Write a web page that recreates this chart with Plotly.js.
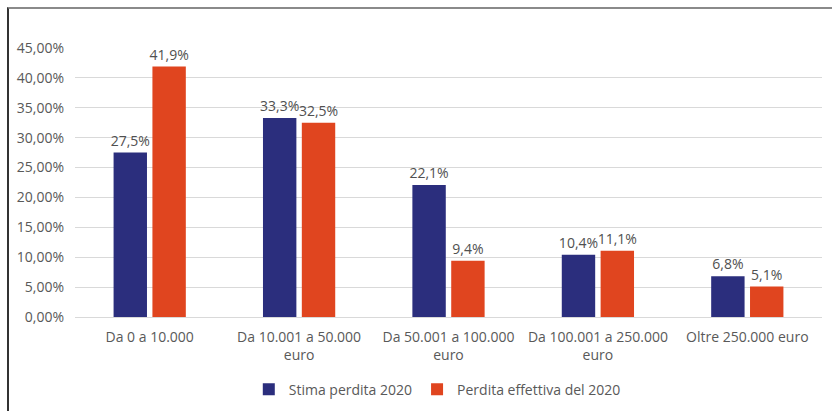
<!DOCTYPE html>
<html>
<head>
<meta charset="utf-8">
<script src="https://cdn.plot.ly/plotly-3.0.1.min.js"></script>
<style>
  html, body { margin: 0; padding: 0; background: #ffffff; }
  #wrap { position: relative; width: 832px; height: 411px; overflow: hidden; }
  #chart { position: absolute; left: 0; top: 0; width: 832px; height: 411px; }
  #frame { position: absolute; left: 7px; top: 7px; width: 900px; height: 500px;
           border-left: 2px solid #333333; border-top: 2px solid #8a8a8a; pointer-events: none; }
</style>
</head>
<body>
<div id="wrap">
  <div id="chart"></div>
  <div id="frame"></div>
</div>
<script>
const categories = [
  "Da 0 a 10.000",
  "Da 10.001 a 50.000<br>euro",
  "Da 50.001 a 100.000<br>euro",
  "Da 100.001 a 250.000<br>euro",
  "Oltre 250.000 euro"
];
const stimaPerdita2020 = [27.5, 33.3, 22.1, 10.4, 6.8];
const perditaEffettiva2020 = [41.9, 32.5, 9.4, 11.1, 5.1];
const seriesNames = ["Stima perdita 2020", "Perdita effettiva del 2020"];
const yTicks = [0, 5, 10, 15, 20, 25, 30, 35, 40, 45];

const FONT = "'Open Sans', 'Noto Sans', sans-serif";

const traces = [
  {
    type: "bar",
    name: seriesNames[0],
    x: categories,
    y: stimaPerdita2020.map(v => v / 100),
    marker: { color: "#2b2e7d" },
    texttemplate: "%{y:.1%}",
    textposition: "outside",
    constraintext: "none",
    textfont: { family: FONT, size: 14, color: "#505050" },
    cliponaxis: false,
    hoverinfo: "skip"
  },
  {
    type: "bar",
    name: seriesNames[1],
    x: categories,
    y: perditaEffettiva2020.map(v => v / 100),
    marker: { color: "#e0451f" },
    texttemplate: "%{y:.1%}",
    textposition: "outside",
    constraintext: "none",
    textfont: { family: FONT, size: 14, color: "#505050" },
    cliponaxis: false,
    hoverinfo: "skip"
  }
];

const layout = {
  width: 832,
  height: 411,
  margin: { l: 75, r: 10, t: 48, b: 94, autoexpand: false },
  paper_bgcolor: "rgba(0,0,0,0)",
  plot_bgcolor: "#ffffff",
  separators: ",.",
  font: { family: FONT, size: 14, color: "#595959" },
  barmode: "group",
  bargap: 0.48,
  bargroupgap: 0.14,
  showlegend: true,
  legend: {
    orientation: "h",
    x: 0.485, xanchor: "center",
    y: -0.27, yanchor: "middle",
    font: { family: FONT, size: 14, color: "#595959" },
    itemwidth: 30,
    traceorder: "normal"
  },
  xaxis: {
    type: "category",
    showgrid: false,
    showline: false,
    zeroline: false,
    ticks: "",
    ticklabelstandoff: 10,
    automargin: false,
    tickfont: { family: FONT, size: 14, color: "#595959" }
  },
  yaxis: {
    range: [0, 0.45],
    tickvals: yTicks.map(v => v / 100),
    tickformat: ".2%",
    showgrid: true,
    gridcolor: "#d9d9d9",
    gridwidth: 1,
    zeroline: true,
    zerolinecolor: "#d9d9d9",
    zerolinewidth: 1,
    showline: false,
    ticks: "",
    ticklabelstandoff: 10,
    automargin: false,
    tickfont: { family: FONT, size: 14, color: "#595959" }
  }
};

Plotly.newPlot("chart", traces, layout, { displayModeBar: false, staticPlot: true });
</script>
</body>
</html>
